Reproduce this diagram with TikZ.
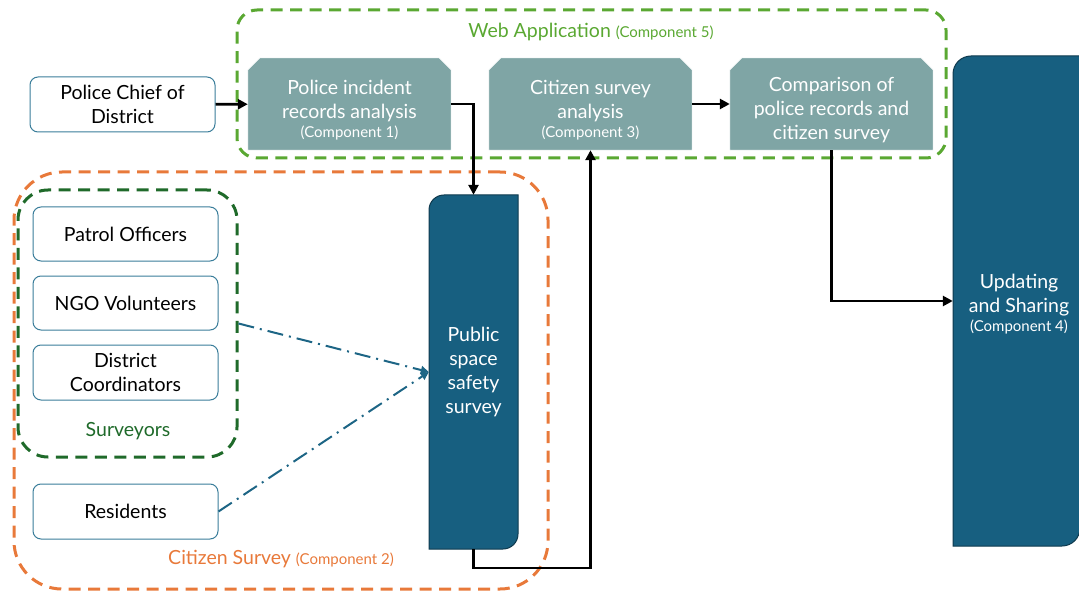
\documentclass[tikz,border=0pt]{standalone}
\usepackage{fontspec}
\setmainfont{Lato}
\usetikzlibrary{arrows.meta}

\definecolor{webgreen}{HTML}{5AA832}
\definecolor{survgreen}{HTML}{1F6A2A}
\definecolor{csorange}{HTML}{E8793A}
\definecolor{tealgray}{HTML}{7FA5A5}
\definecolor{darkblue}{HTML}{175F80}
\definecolor{darkedge}{HTML}{0F3A4E}
\definecolor{actoredge}{HTML}{3A7D9A}
\definecolor{linkblue}{HTML}{1D6585}

\newcommand{\bigfont}{\fontsize{19.5}{24}\selectfont}
\newcommand{\compfont}{\fontsize{15}{18}\selectfont}

\begin{document}
\begin{tikzpicture}[x=1pt,y=-1pt,
  actor/.style={rectangle, rounded corners=8pt, draw=actoredge, line width=1pt,
    fill=white, minimum width=185pt, minimum height=55pt, inner sep=0pt,
    align=center, font=\bigfont},
  analysis/.style={rectangle, minimum width=203pt, minimum height=92pt, inner sep=0pt},
  boxtext/.style={inner sep=0pt, align=center, text=white, font=\bigfont},
  tallbox/.style={rectangle, inner sep=0pt},
  group/.style={rectangle, line width=3pt, dash pattern=on 12pt off 7.5pt, inner sep=0pt},
  flow/.style={draw=black, line width=2.6pt, -{Triangle[length=10pt,width=10pt]}},
  feed/.style={draw=linkblue, line width=2pt, dash pattern=on 16pt off 6pt on 2pt off 6pt,
    -{Triangle[length=8pt,width=8pt]}}
]
\useasboundingbox (0,0) rectangle (1079,596);

% grouping frames
\node[group, draw=webgreen, rounded corners=20pt, minimum width=709pt, minimum height=148pt]
  (web) at (591.5,84) {};
\node[group, draw=csorange, rounded corners=48pt, minimum width=534pt, minimum height=417pt]
  (cs) at (281,380.5) {};
\node[group, draw=survgreen, rounded corners=30pt, minimum width=219pt, minimum height=267pt]
  (surv) at (127.5,323.5) {};

\node[text=webgreen, font=\bigfont] (weblbl) at (591,32)
  {Web Application {\compfont (Component 5)}};
\node[text=survgreen, font=\bigfont] (survlbl) at (128,431) {Surveyors};
\node[text=csorange, font=\bigfont] (cslbl) at (281,559)
  {Citizen Survey {\compfont (Component 2)}};

% tall survey and sharing blocks (rounded top-left and bottom-right)
\fill[darkblue, draw=darkedge, line width=1pt]
  (429,549) -- (429,210) arc[start angle=180, end angle=270, radius=15]
  -- (518,195) -- (518,534) arc[start angle=0, end angle=90, radius=15] -- cycle;
\node[tallbox, minimum width=89pt, minimum height=354pt] (pub) at (473.5,372) {};
\node[boxtext] (pubtext) at (473.5,372) {Public\\space\\safety\\survey};

\fill[darkblue, draw=darkedge, line width=1pt]
  (953,546) -- (953,74) arc[start angle=180, end angle=270, radius=18]
  -- (1080,56) -- (1080,528) arc[start angle=0, end angle=90, radius=18] -- cycle;
\node[tallbox, minimum width=126pt, minimum height=490pt] (upd) at (1016,301) {};
\node[boxtext] (updtext) at (1019,304)
  {Updating\\and Sharing\\[-5pt]{\compfont (Component 4)}};

% actors
\node[actor] (chief) at (122.5,104.5) {Police Chief of\\District};
\node[actor, minimum height=54pt] (patrol) at (125.5,234) {Patrol Officers};
\node[actor, minimum height=54pt] (ngo) at (125.5,303) {NGO Volunteers};
\node[actor] (coord) at (125.5,372.5) {District\\Coordinators};
\node[actor] (res) at (125.5,511.5) {Residents};

% analysis steps: grey blocks with the two upper corners cut off
\node[analysis] (an1) at (349.5,104) {};
\node[analysis] (an3) at (590.5,104) {};
\node[analysis] (cmp) at (831.5,104) {};
\foreach \b in {an1,an3,cmp}
  \fill[tealgray, draw=white, line width=0.6pt]
    (\b.south west) -- ([yshift=-12pt]\b.north west) -- ([xshift=12pt]\b.north west)
    -- ([xshift=-12pt]\b.north east) -- ([yshift=-12pt]\b.north east)
    -- (\b.south east) -- cycle;
\node[boxtext] (an1text) at (349.5,110)
  {Police incident\\records analysis\\[-5pt]{\compfont (Component 1)}};
\node[boxtext] (an3text) at (590.5,110)
  {Citizen survey\\analysis\\[-5pt]{\compfont (Component 3)}};
\node[boxtext] (cmptext) at (831.5,110)
  {Comparison of\\police records and\\citizen survey};

% connectors
\coordinate (turn) at (473.5,568);
\draw[flow] (chief) -- (an1);
\draw[flow] (an1.east) -| (pub.north);
\draw[flow] (pub.south) -- (turn) -| (an3.south);
\draw[flow] (an3) -- (cmp);
\draw[flow] (cmp.south) |- (upd.west);
\draw[feed] (surv.east) -- (pub.west);
\draw[feed] (res.east) -- (pub.west);
\end{tikzpicture}
\end{document}
